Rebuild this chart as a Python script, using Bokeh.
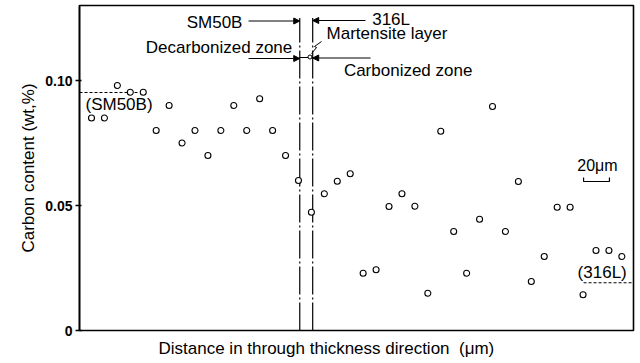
from bokeh.plotting import figure
from bokeh.models import Label, Arrow, NormalHead, FixedTicker, Title
from bokeh.embed import file_html
from bokeh.resources import INLINE

# Carbon profile across the SM50B / 316L clad interface
distance_um = [0, 10, 20, 30, 40, 50, 60, 70, 80, 90,
               100, 110, 120, 130, 140, 150, 160, 170, 180, 190,
               200, 210, 220, 230, 240, 250, 260, 270, 280, 290,
               300, 310, 320, 330, 340, 350, 360, 370, 380, 390,
               400, 410]
carbon_wt = [0.085, 0.085, 0.098, 0.0953, 0.0953, 0.080, 0.090, 0.075, 0.080, 0.070,
             0.080, 0.090, 0.080, 0.0927, 0.080, 0.070, 0.060, 0.0473, 0.0547, 0.0597,
             0.0627, 0.0229, 0.0243, 0.0496, 0.0547, 0.0497, 0.0149, 0.0797, 0.0396, 0.0229,
             0.0445, 0.0896, 0.0396, 0.0596, 0.0196, 0.0296, 0.0493, 0.0493, 0.0143, 0.032,
             0.032, 0.0296]

# base-metal carbon levels
sm50b_base = 0.0952
sus316l_base = 0.0191

# interface boundaries (um)
boundaries = [161, 171]

y_ticks = [0, 0.05, 0.10]
y_tick_labels = ["0", "0.05", "0.10"]

FONT = "Liberation Sans"
FS = "17px"

p = figure(width=640, height=363, output_backend="svg", toolbar_location=None,
           x_range=(-9.28, 419.0), y_range=(0, 0.13),
           min_border_left=79, min_border_right=7, min_border_top=5, min_border_bottom=33)
p.background_fill_color = "white"
p.border_fill_color = "white"
p.outline_line_color = "black"
p.outline_line_width = 1.6
p.grid.visible = False
p.xaxis.visible = False

ya = p.yaxis[0]
ya.ticker = FixedTicker(ticks=y_ticks)
ya.major_label_overrides = {t: s for t, s in zip(y_ticks, y_tick_labels)}
ya.minor_tick_line_color = None
ya.major_tick_out = 4
ya.major_tick_in = 2
ya.major_tick_line_width = 1.5
ya.axis_line_width = 1.6
ya.major_label_standoff = 3
ya.major_label_text_font = FONT
ya.major_label_text_font_style = "bold"
ya.major_label_text_font_size = "14px"
ya.major_label_text_color = "black"
ya.axis_label = "Carbon content (wt,%)"
ya.axis_label_text_font = FONT
ya.axis_label_text_font_style = "normal"
ya.axis_label_text_font_size = FS
ya.axis_label_text_color = "black"
ya.axis_label_standoff = 4

# x-axis title sits under the frame, starting a little right of its left edge
p.add_layout(Title(text="Distance in through thickness direction\u00a0\u00a0(μm)", align="left",
                   offset=79, text_font=FONT, text_font_size=FS,
                   text_font_style="normal", text_color="black",
                   standoff=12), "below")

# boundary chain lines
p.segment(x0=boundaries, y0=[0, 0], x1=boundaries, y1=[0.125, 0.125],
          line_color="black", line_width=1.2, line_dash="28 3 2 3")

# base-level dashed references
p.line([-9.28, 36.3], [sm50b_base, sm50b_base], line_color="black",
       line_width=1, line_dash="3 2")
p.line([380.4, 419.0], [sus316l_base, sus316l_base], line_color="black",
       line_width=1, line_dash="3 2")

# measured points
p.scatter(distance_um, carbon_wt, marker="circle", size=6, fill_color="white",
          line_color="black", line_width=1.1)


def label(x, y, text, align="left", size=FS):
    p.add_layout(Label(x=x, y=y, text=text, text_align=align, text_baseline="middle",
                       text_font=FONT, text_font_size=size, text_color="black"))


def arrow(x0, x1, y):
    p.add_layout(Arrow(x_start=x0, y_start=y, x_end=x1, y_end=y, line_width=1,
                       line_color="black",
                       end=NormalHead(size=6, fill_color="black", line_color="black")))


label(116.7, 0.1233, "SM50B", align="right")
arrow(121.4, boundaries[0], 0.1238)
label(155.2, 0.1133, "Decarbonized zone", align="right")
arrow(121.4, boundaries[0], 0.1088)

label(217.0, 0.1243, "316L")
arrow(211.8, boundaries[1], 0.124)
label(181.7, 0.1187, "Martensite layer")
label(195.1, 0.104, "Carbonized zone")
arrow(215.7, boundaries[1], 0.109)

# martensite layer marker and leader
p.line(boundaries, [0.1092, 0.1092], line_color="black", line_width=1)
p.scatter([168.9], [0.1094], marker="circle", size=4, fill_color="white",
          line_color="black", line_width=1)
p.line([170.1, 174.0, 172.4, 177.8], [0.1108, 0.1132, 0.1136, 0.1156],
       line_color="black", line_width=1)

label(-4.64, 0.0905, "(SM50B)")
label(375.8, 0.0232, "(316L)")

# 20 um scale bar
label(375.5, 0.066, "20μm", size="16px")
bar_x0 = 380.4
p.line([bar_x0, bar_x0, bar_x0 + 20, bar_x0 + 20], [0.0612, 0.0596, 0.0596, 0.0612],
       line_color="black", line_width=1.2)

open("out.html", "w").write(file_html(p, INLINE))
